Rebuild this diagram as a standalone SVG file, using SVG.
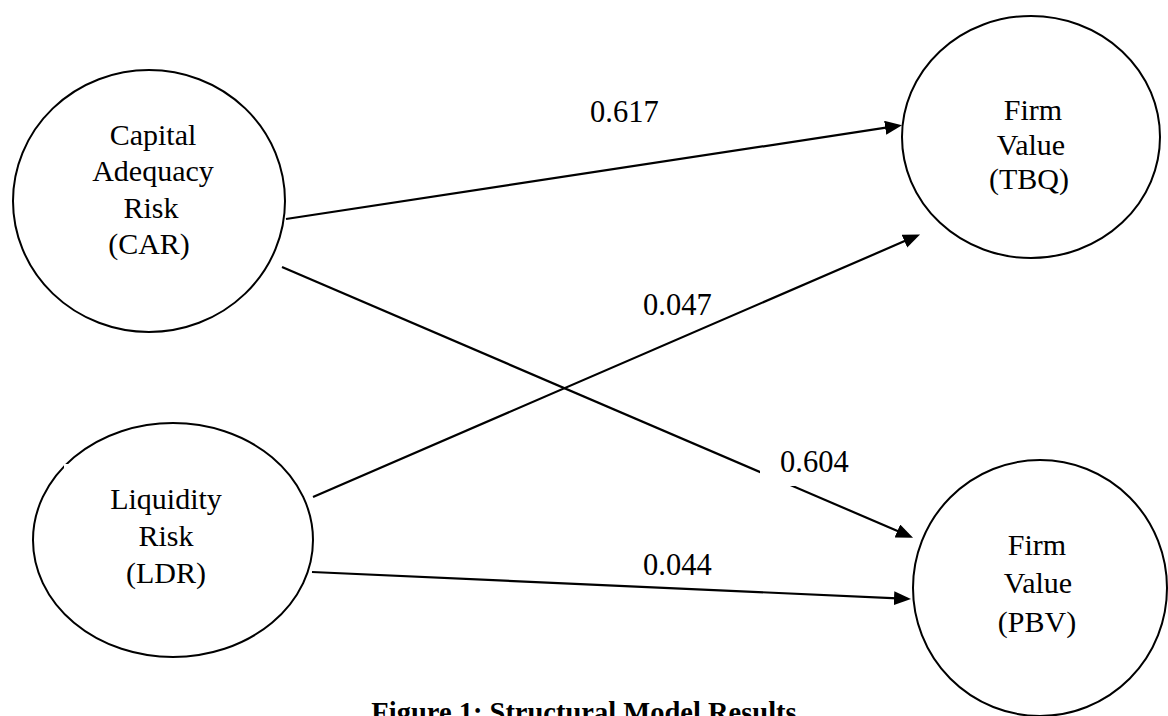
<svg xmlns="http://www.w3.org/2000/svg" width="1168" height="716" viewBox="0 0 1168 716">
<style>
.node{fill:#fff;stroke:#000;stroke-width:2}
.lbl{font-family:"Liberation Serif","Times New Roman",serif;font-size:30px;fill:#000;text-anchor:middle}
.num{font-family:"Liberation Serif","Times New Roman",serif;font-size:30.5px;fill:#000}
.edge{stroke:#000;stroke-width:2.2;fill:none;marker-end:url(#arr)}
.title{font-family:"Liberation Serif","Times New Roman",serif;font-size:28.5px;font-weight:bold;fill:#000;text-anchor:middle}
</style>
<defs>
<marker id="arr" markerUnits="userSpaceOnUse" markerWidth="18" markerHeight="15" refX="9" refY="7" orient="auto">
<path d="M0,0 L17,7 L0,14 z" fill="#000"/>
</marker>
</defs>
<rect width="1168" height="716" fill="#fff"/>
<g id="car">
<ellipse class="node" cx="149" cy="201" rx="136" ry="131"/>
<text class="lbl" x="153" y="145">Capital</text>
<text class="lbl" x="153" y="181">Adequacy</text>
<text class="lbl" x="151" y="218">Risk</text>
<text class="lbl" x="149" y="254">(CAR)</text>
</g>
<g id="ldr">
<ellipse class="node" cx="173" cy="540" rx="140" ry="117"/>
<rect x="64" y="464" width="9" height="10" fill="#fff"/>
<text class="lbl" x="166" y="509">Liquidity</text>
<text class="lbl" x="166" y="546">Risk</text>
<text class="lbl" x="166" y="583">(LDR)</text>
</g>
<g id="tbq">
<ellipse class="node" cx="1031" cy="137" rx="129" ry="121"/>
<text class="lbl" x="1033" y="120">Firm</text>
<text class="lbl" x="1031" y="155">Value</text>
<text class="lbl" x="1029" y="189">(TBQ)</text>
</g>
<g id="pbv">
<ellipse class="node" cx="1040" cy="588" rx="127" ry="128"/>
<text class="lbl" x="1037" y="555">Firm</text>
<text class="lbl" x="1038" y="593">Value</text>
<text class="lbl" x="1037" y="632">(PBV)</text>
</g>
<g id="connectors">
<line class="edge" x1="286" y1="219" x2="894.1" y2="126.4"/>
<line class="edge" x1="282" y1="267" x2="905.7" y2="534.5"/>
<line class="edge" x1="313" y1="497" x2="912.7" y2="237.6"/>
<line class="edge" x1="312" y1="572" x2="903" y2="598.6"/>
</g>
<g id="labels">
<text class="num" x="590" y="122">0.617</text>
<text class="num" x="643" y="315">0.047</text>
<rect x="760" y="440" width="110" height="46" fill="#fff"/>
<text class="num" x="780" y="472">0.604</text>
<text class="num" x="643" y="575">0.044</text>
</g>
<text class="title" x="584" y="722">Figure 1: Structural Model Results</text>
</svg>
